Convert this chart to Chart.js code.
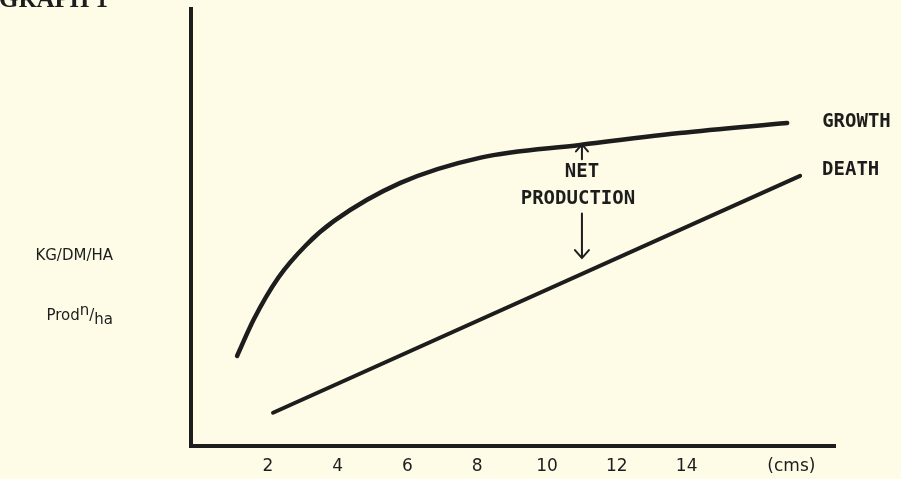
<!DOCTYPE html>
<html><head><meta charset="utf-8">
<script src="https://cdn.jsdelivr.net/npm/chart.js@4.4.1/dist/chart.umd.min.js"></script>
<style>
html,body{margin:0;padding:0;background:#fefce7;}
#wrap{width:901px;height:479px;position:relative;overflow:hidden;}
</style></head><body>
<div id="wrap"><canvas id="c" width="901" height="479"></canvas></div>
<script>
// ---- data ----
const xTickValues = [2, 4, 6, 8, 10, 12, 14];
const xUnitLabel = '(cms)';
const xUnitAt = 17;
const growthX = [1.12, 1.6, 2.3, 3.1, 3.9, 5.8, 8.1, 10.95, 13.8, 16.88];
const growthY = [20.6, 29.0, 38.5, 46.0, 51.5, 60.2, 66.0, 68.9, 71.6, 73.9];
const deathX = [2.15, 17.25];
const deathY = [7.6, 61.8];
const seriesNames = ['GROWTH', 'DEATH'];
const netLabel = ['NET', 'PRODUCTION'];
const netAt = 11.0;
const yLabel1 = 'KG/DM/HA';
const yLabel2 = ['Prod', 'n', '/', 'ha'];
const titleText = 'GRAPH 1';

const INK = '#1d1d1d';
const toPts = (xs, ys) => xs.map((x, i) => ({x, y: ys[i]}));

const annot = {
  id: 'annot',
  afterDraw(chart) {
    const {ctx, scales: {x, y}, chartArea} = chart;
    ctx.save();
    ctx.fillStyle = INK;
    ctx.strokeStyle = INK;
    // title (cut at top edge)
    ctx.font = 'bold 25px "Liberation Serif", serif';
    ctx.textAlign = 'left';
    ctx.textBaseline = 'alphabetic';
    ctx.fillText(titleText, -1, 7);
    // series labels at line ends
    ctx.font = 'bold 19px "DejaVu Sans Mono", monospace';
    const gEnd = growthX.length - 1;
    ctx.textBaseline = 'middle';
    ctx.fillText(seriesNames[0], x.getPixelForValue(growthX[gEnd]) + 35, y.getPixelForValue(growthY[gEnd]) - 1);
    ctx.fillText(seriesNames[1], x.getPixelForValue(deathX[1]) + 22, y.getPixelForValue(deathY[1]) - 6);
    // net production label and arrows
    const ax = x.getPixelForValue(netAt);
    ctx.textAlign = 'center';
    ctx.fillText(netLabel[0], ax, y.getPixelForValue(62.8));
    ctx.fillText(netLabel[1], ax - 4, y.getPixelForValue(56.6));
    ctx.lineWidth = 2;
    ctx.lineCap = 'round';
    // up arrow
    const upTip = y.getPixelForValue(69.0), upTail = y.getPixelForValue(65.6);
    ctx.beginPath();
    ctx.moveTo(ax, upTail); ctx.lineTo(ax, upTip);
    ctx.moveTo(ax - 6, upTip + 7); ctx.lineTo(ax, upTip); ctx.lineTo(ax + 6, upTip + 7);
    ctx.stroke();
    // down arrow
    const dnTail = y.getPixelForValue(53.2), dnTip = y.getPixelForValue(43.0);
    ctx.beginPath();
    ctx.moveTo(ax, dnTail); ctx.lineTo(ax, dnTip);
    ctx.moveTo(ax - 7, dnTip - 8); ctx.lineTo(ax, dnTip); ctx.lineTo(ax + 7, dnTip - 8);
    ctx.stroke();
    // y axis description at left
    const rx = chartArea.left - 78;
    ctx.font = '15px "DejaVu Sans", sans-serif';
    ctx.textAlign = 'right';
    ctx.textBaseline = 'middle';
    ctx.fillText(yLabel1, rx, y.getPixelForValue(43.5));
    // Prod^n/_ha
    const by = y.getPixelForValue(29.7);
    ctx.textAlign = 'left';
    ctx.font = '15px "DejaVu Sans", sans-serif';
    const w = yLabel2.map(t => ctx.measureText(t).width);
    let sx = rx - w.reduce((a, b) => a + b, 0);
    ctx.fillText(yLabel2[0], sx, by); sx += w[0];
    ctx.fillText(yLabel2[1], sx, by - 5); sx += w[1];
    ctx.fillText(yLabel2[2], sx, by); sx += w[2];
    ctx.fillText(yLabel2[3], sx, by + 4);
    ctx.restore();
  }
};

new Chart(document.getElementById('c'), {
  type: 'line',
  data: {
    datasets: [
      {label: seriesNames[0], data: toPts(growthX, growthY), borderColor: INK, borderWidth: 4.5,
       cubicInterpolationMode: 'monotone', pointRadius: 0, borderCapStyle: 'round', fill: false},
      {label: seriesNames[1], data: toPts(deathX, deathY), borderColor: INK, borderWidth: 4,
       tension: 0, pointRadius: 0, borderCapStyle: 'round', fill: false}
    ]
  },
  options: {
    responsive: false, animation: false, devicePixelRatio: 1,
    layout: {padding: {left: 191, top: 9, right: 66, bottom: 0}},
    plugins: {legend: {display: false}, tooltip: {enabled: false}},
    scales: {
      x: {
        type: 'linear', min: -0.2, max: 18.25,
        grid: {display: false, drawTicks: false},
        border: {display: true, color: INK, width: 4},
        afterBuildTicks: s => { s.ticks = xTickValues.map(v => ({value: v})).concat([{value: xUnitAt}]); },
        ticks: {autoSkip: false, maxRotation: 0, padding: 10, color: INK,
          font: {family: '"DejaVu Sans", sans-serif', size: 17},
          callback: v => v === xUnitAt ? xUnitLabel : String(v)},
        afterFit: s => { s.height = 33; }
      },
      y: {
        type: 'linear', min: 0, max: 100,
        grid: {display: false, drawTicks: false},
        ticks: {display: false},
        border: {display: true, color: INK, width: 4},
        afterFit: s => { s.width = 0; }
      }
    }
  },
  plugins: [annot]
});
</script>
</body></html>
